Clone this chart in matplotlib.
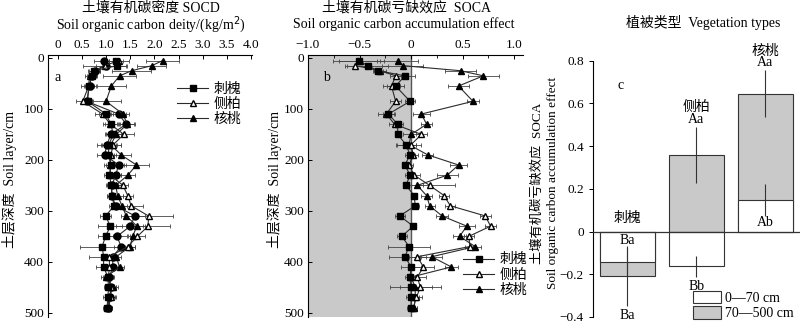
import matplotlib
matplotlib.use('Agg')
import matplotlib.pyplot as plt
from matplotlib.patches import Patch
from matplotlib.lines import Line2D
import numpy as np

plt.rcParams['font.family'] = ['Liberation Serif', 'Noto Sans CJK SC']
plt.rcParams['font.size'] = 9
plt.rcParams['axes.linewidth'] = 0.8

# soil depth (layer midpoints, cm)
depth = [5, 15, 25, 35, 55, 85, 110, 130, 150, 170, 190, 210, 230, 250,
         270, 290, 310, 330, 350, 370, 390, 410, 430, 450, 470, 490]

# a: SOC density, kg/m2
socd_ch = [1.21, 1.23, 0.75, 0.72, 0.64, 0.62, 1.00, 1.10, 1.15, 1.06, 1.05, 1.10, 1.07,
           1.11, 1.12, 1.17, 0.99, 1.09, 0.99, 0.92, 0.95, 0.95, 1.04, 1.05, 1.04, 1.02]
socd_cb = [1.27, 0.97, 0.75, 0.66, 0.64, 0.52, 0.93, 1.09, 1.37, 1.15, 1.10, 1.09, 1.09,
           1.35, 1.45, 1.52, 1.88, 1.87, 1.65, 1.45, 1.07, 1.07, 1.05, 1.10, 1.10, 1.05]
socd_ht = [2.17, 1.95, 1.53, 1.28, 1.11, 1.00, 1.35, 1.44, 1.21, 1.10, 1.31, 1.63, 1.45,
           1.20, 1.24, 1.33, 1.42, 1.64, 1.55, 1.50, 1.21, 1.28, 1.00, 1.14, 1.06, 1.04]
socd_ck = [0.95, 1.00, 0.78, 0.70, 0.66, 0.60, 1.26, 1.42, 1.10, 1.02, 0.97, 1.26, 1.20,
           1.12, 1.12, 1.20, 1.60, 1.50, 1.23, 1.31, 1.14, 1.14, 1.07, 1.10, 1.08, 1.05]
socd_ch_err = [0.15, 0.20, 0.12, 0.10, 0.10, 0.12, 0.15, 0.12, 0.15, 0.15, 0.12, 0.15, 0.12,
               0.10, 0.10, 0.10, 0.12, 0.25, 0.15, 0.45, 0.30, 0.15, 0.10, 0.10, 0.10, 0.08]
socd_cb_err = [0.20, 0.45, 0.10, 0.10, 0.15, 0.15, 0.15, 0.15, 0.20, 0.15, 0.10, 0.10, 0.10,
               0.10, 0.10, 0.25, 0.50, 0.45, 0.15, 0.15, 0.10, 0.10, 0.10, 0.10, 0.10, 0.08]
socd_ht_err = [0.35, 0.30, 0.40, 0.35, 0.30, 0.30, 0.12, 0.15, 0.15, 0.20, 0.20, 0.25, 0.15,
               0.12, 0.12, 0.10, 0.12, 0.12, 0.10, 0.10, 0.10, 0.10, 0.10, 0.10, 0.08, 0.08]
socd_ck_err = [0.20, 0.20, 0.10, 0.10, 0.10, 0.10, 0.15, 0.15, 0.12, 0.20, 0.15, 0.15, 0.12,
               0.10, 0.10, 0.10, 0.20, 0.30, 0.20, 0.15, 0.10, 0.10, 0.10, 0.10, 0.10, 0.08]

# b: SOC accumulation effect
soca_ch = [-0.51, -0.42, -0.32, -0.06, -0.15, -0.01, -0.22, -0.13, -0.13, -0.05, -0.01, -0.06, -0.01,
           -0.05, 0.03, 0.04, -0.11, 0.02, -0.09, -0.02, -0.06, 0.00, -0.01, 0.00, 0.00, 0.00]
soca_cb = [-0.50, -0.54, -0.30, -0.15, -0.19, -0.15, -0.24, -0.16, 0.10, 0.00, 0.02, -0.02, 0.03,
           0.18, 0.32, 0.38, 0.72, 0.77, 0.56, 0.57, 0.06, 0.12, 0.06, 0.09, 0.05, 0.02]
soca_ht = [-0.13, -0.08, 0.48, 0.70, 0.46, 0.60, 0.10, 0.15, 0.00, -0.02, 0.16, 0.46, 0.35,
           0.06, 0.15, 0.18, 0.30, 0.54, 0.47, 0.62, 0.20, 0.39, 0.00, 0.04, 0.04, 0.03]
soca_ch_err = [0.25, 0.20, 0.05, 0.10, 0.08, 0.05, 0.05, 0.05, 0.03, 0.10, 0.05, 0.03, 0.05,
               0.03, 0.03, 0.04, 0.05, 0.03, 0.05, 0.20, 0.15, 0.10, 0.05, 0.20, 0.05, 0.04]
soca_cb_err = [0.20, 0.10, 0.06, 0.05, 0.08, 0.05, 0.08, 0.05, 0.05, 0.05, 0.05, 0.04, 0.06,
               0.25, 0.05, 0.05, 0.05, 0.05, 0.05, 0.05, 0.08, 0.10, 0.08, 0.20, 0.06, 0.04]
soca_ht_err = [0.20, 0.20, 0.15, 0.15, 0.10, 0.06, 0.08, 0.05, 0.08, 0.12, 0.05, 0.08, 0.10,
               0.06, 0.05, 0.05, 0.06, 0.08, 0.06, 0.06, 0.10, 0.06, 0.04, 0.05, 0.04, 0.03]

# c: mean SOCA by vegetation type and layer
species = ['刺槐', '侧柏', '核桃']
soca_top = [-0.145, -0.163, 0.148]      # 0-70 cm
soca_top_err = [0.07, 0.05, 0.075]
soca_deep = [-0.21, 0.358, 0.645]       # 70-500 cm
soca_deep_err = [0.14, 0.13, 0.11]
letters_top = ['Ba', 'Bb', 'Ab']
letters_deep = ['Ba', 'Aa', 'Aa']

legend_names = ['刺槐', '侧柏', '核桃']
GREY = '#c9c9c9'
LINE = '#2b2b2b'

fig = plt.figure(figsize=(8, 3.27), dpi=100)
ax_a = fig.add_axes([0.06, 0.031, 0.255, 0.801])
ax_b = fig.add_axes([0.385, 0.031, 0.269, 0.801])
ax_c = fig.add_axes([0.741, 0.031, 0.259, 0.783])

ebkw = dict(color=LINE, lw=0.8, elinewidth=0.6, ecolor='#444444', capsize=1.2, capthick=0.6, ms=5)


def depth_axis(ax):
    ax.set_ylim(508, -6)
    ax.set_yticks([0, 100, 200, 300, 400, 500])
    ax.xaxis.tick_top()
    ax.tick_params(direction='in', length=3, width=0.7, labelsize=9.5, pad=3)
    ax.spines['right'].set_visible(False)
    ax.spines['bottom'].set_visible(False)


# panel a
ax_a.errorbar(socd_ck, depth, xerr=socd_ck_err, marker='o', mfc='black', mec='black', **ebkw)
ax_a.errorbar(socd_ht, depth, xerr=socd_ht_err, marker='^', mfc='black', mec='black', **ebkw)
ax_a.errorbar(socd_cb, depth, xerr=socd_cb_err, marker='^', mfc='white', mec='black', **ebkw)
ax_a.errorbar(socd_ch, depth, xerr=socd_ch_err, marker='s', mfc='black', mec='black', **ebkw)
ax_a.set_xlim(-0.2, 4.02)
ax_a.set_xticks(np.arange(0, 4.01, 0.5))
ax_a.set_xticklabels(['0', '0.5', '1.0', '1.5', '2.0', '2.5', '3.0', '3.5', '4.0'])
depth_axis(ax_a)
ax_a.text(0.03, 0.9, 'a', transform=ax_a.transAxes, fontsize=10)

handles = [Line2D([], [], color=LINE, lw=0.8, marker='s', mfc='black', mec='black', ms=5),
           Line2D([], [], color=LINE, lw=0.8, marker='^', mfc='white', mec='black', ms=5),
           Line2D([], [], color=LINE, lw=0.8, marker='^', mfc='black', mec='black', ms=5)]
ax_a.legend(handles, legend_names, loc='upper left', bbox_to_anchor=(0.6, 0.92), frameon=False,
            fontsize=10, handlelength=2.2, handletextpad=0.4, labelspacing=0.15, borderpad=0)

# panel b
ax_b.axvspan(-1.0, 0, color=GREY, lw=0, zorder=0)
ax_b.axvline(0, color='#555555', lw=1.0, zorder=1)
ax_b.errorbar(soca_ht, depth, xerr=soca_ht_err, marker='^', mfc='black', mec='black', **ebkw)
ax_b.errorbar(soca_cb, depth, xerr=soca_cb_err, marker='^', mfc='white', mec='black', **ebkw)
ax_b.errorbar(soca_ch, depth, xerr=soca_ch_err, marker='s', mfc='black', mec='black', **ebkw)
ax_b.set_xlim(-1.0, 1.087)
ax_b.set_xticks([-1.0, -0.5, 0, 0.5, 1.0])
ax_b.set_xticklabels(['−1.0', '−0.5', '0', '0.5', '1.0'])
ax_b.set_xticks(np.arange(-1.0, 1.01, 0.25), minor=True)
depth_axis(ax_b)
ax_b.tick_params(which='minor', direction='in', length=2, width=0.6)
ax_b.text(0.07, 0.9, 'b', transform=ax_b.transAxes, fontsize=10)
ax_b.legend(handles, legend_names, loc='lower left', bbox_to_anchor=(0.69, 0.05), frameon=False,
            fontsize=10, handlelength=2.2, handletextpad=0.4, labelspacing=0.15, borderpad=0)

# axis titles above panels a and b
fig.text(0.188, 0.975, '土壤有机碳密度 SOCD', ha='center', va='center', fontsize=10)
fig.text(0.188, 0.925, 'Soil organic carbon deity/(kg/m$^2$)', ha='center', va='center', fontsize=10)
fig.text(0.508, 0.975, '土壤有机碳亏缺效应  SOCA', ha='center', va='center', fontsize=10)
fig.text(0.505, 0.925, 'Soil organic carbon accumulation effect', ha='center', va='center', fontsize=10)
fig.text(0.012, 0.45, '土层深度  Soil layer/cm', rotation=90, ha='center', va='center', fontsize=10)
fig.text(0.343, 0.45, '土层深度  Soil layer/cm', rotation=90, ha='center', va='center', fontsize=10)

# panel c
x = np.arange(len(species))
ax_c.bar(x, soca_deep, width=0.8, color=GREY, edgecolor='#333333', lw=0.8, zorder=2)
ax_c.bar(x, soca_top, width=0.8, color='white', edgecolor='#333333', lw=0.8, zorder=3)
ax_c.errorbar(x, soca_deep, yerr=soca_deep_err, fmt='none', ecolor='#333333', elinewidth=0.8, zorder=4)
ax_c.errorbar(x, soca_top, yerr=soca_top_err, fmt='none', ecolor='#333333', elinewidth=0.8, zorder=4)
ax_c.axhline(0, color='#333333', lw=0.9, zorder=5)
ax_c.set_xlim(-0.5, 2.5)
ax_c.set_ylim(-0.4, 0.8)
ax_c.set_yticks([-0.4, -0.2, 0, 0.2, 0.4, 0.6, 0.8])
ax_c.set_yticklabels(['−0.4', '−0.2', '0', '0.2', '0.4', '0.6', '0.8'])
ax_c.set_xticks([])
for s in ['top', 'right', 'bottom']:
    ax_c.spines[s].set_visible(False)
ax_c.tick_params(axis='y', direction='out', length=3, width=0.7, labelsize=9.5)
ax_c.text(0.12, 0.89, 'c', transform=ax_c.transAxes, fontsize=10)

# species names and significance letters
ax_c.text(x[0], 0.06, species[0], ha='center', va='center', fontsize=10)
ax_c.text(x[0], -0.04, letters_top[0], ha='center', va='center', fontsize=10)
ax_c.text(x[0], soca_deep[0] - soca_deep_err[0] - 0.045, letters_deep[0], ha='center', va='center', fontsize=10)
ax_c.text(x[1], soca_deep[1] + soca_deep_err[1] + 0.095, species[1], ha='center', va='center', fontsize=10)
ax_c.text(x[1], soca_deep[1] + soca_deep_err[1] + 0.035, letters_deep[1], ha='center', va='center', fontsize=10)
ax_c.text(x[1], soca_top[1] - soca_top_err[1] - 0.045, letters_top[1], ha='center', va='center', fontsize=10)
ax_c.text(x[2], soca_deep[2] + soca_deep_err[2] + 0.09, species[2], ha='center', va='center', fontsize=10)
ax_c.text(x[2], soca_deep[2] + soca_deep_err[2] + 0.035, letters_deep[2], ha='center', va='center', fontsize=10)
ax_c.text(x[2], 0.04, letters_top[2], ha='center', va='center', fontsize=10)

fig.text(0.879, 0.93, '植被类型  Vegetation types', ha='center', va='center', fontsize=10)
fig.text(0.672, 0.44, '土壤有机碳亏缺效应  SOCA', rotation=90, ha='center', va='center', fontsize=9.5)
fig.text(0.691, 0.44, 'Soil organic carbon accumulation effect', rotation=90, ha='center', va='center', fontsize=9.5)

patches = [Patch(facecolor='white', edgecolor='#333333', lw=0.8),
           Patch(facecolor=GREY, edgecolor='#333333', lw=0.8)]
ax_c.legend(patches, ['0—70 cm', '70—500 cm'], loc='lower left', bbox_to_anchor=(0.45, -0.04),
            frameon=False, fontsize=10, handlelength=2.0, handleheight=1.0, handletextpad=0.3,
            labelspacing=0.1, borderpad=0)

fig.savefig('out.png', dpi=100)
